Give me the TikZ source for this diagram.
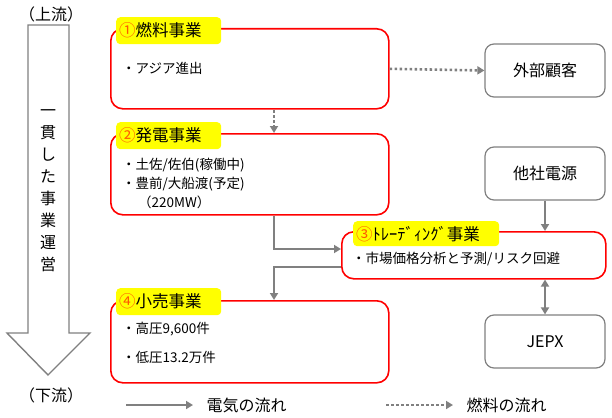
\documentclass[tikz,border=0pt]{standalone}
\usepackage{fontspec}
\setmainfont{Noto Sans CJK JP}
\usetikzlibrary{arrows.meta}
\definecolor{rouge}{RGB}{255,0,0}
\definecolor{gris}{RGB}{128,128,128}
\definecolor{jaune}{RGB}{255,255,0}
\definecolor{numero}{RGB}{255,90,0}
\newcommand{\numcercle}[1]{\textcolor{numero}{#1}}

\begin{document}
\begin{tikzpicture}[x=1pt,y=-1pt]

% définition des styles
\tikzstyle{activite}=[draw=rouge,line width=1.6pt,rounded corners=12pt,minimum width=278pt,anchor=north west]
\tikzstyle{externe}=[draw=gris,line width=1.2pt,rounded corners=9pt,minimum width=120pt,minimum height=53pt,font=\fontsize{16}{18}\selectfont]
\tikzstyle{titre}=[fill=jaune,rounded corners=4pt,anchor=north west,inner xsep=3pt,inner ysep=2pt,text width=99pt,font=\fontsize{16.5}{18}\selectfont,minimum height=27pt]
\tikzstyle{texte}=[anchor=west,inner sep=0pt,font=\fontsize{13.5}{16}\selectfont]
\tikzstyle{fleche}=[-{Triangle[length=7pt,width=8pt]},line width=2.6pt,gris]
\tikzstyle{pointille}=[-{Triangle[length=7pt,width=8pt]},line width=2.6pt,gris,dash pattern=on 2.5pt off 2.5pt]

\useasboundingbox (0,0) rectangle (612,417);

% la grande flèche
\node[font=\fontsize{16}{18}\selectfont] (amont) at (51,14) {（上流）};
\draw[gris,line width=1.4pt] (28,25) -- (69,25) -- (69,333) -- (90,333) -- (48,375) -- (7,333) -- (28,333) -- cycle;
\node[font=\fontsize{16}{22}\selectfont,align=center] (fleuve) at (48,191) {一\\貫\\し\\た\\事\\業\\運\\営};
\node[font=\fontsize{16}{18}\selectfont] (aval) at (51,395) {（下流）};

% les activités
\node[activite,minimum height=80pt] (combustible) at (110,28) {};
\node[titre] (t1) at (116,17) {\numcercle{①}燃料事業};
\node[texte] at (122,68) {・アジア進出};

\node[activite,minimum height=81pt] (production) at (110,133) {};
\node[titre] (t2) at (116,122) {\numcercle{②}発電事業};
\node[texte] at (122,165) {・土佐/佐伯(稼働中)};
\node[texte] at (122,184) {・豊前/大船渡(予定)};
\node[texte] at (138,202) {（220MW）};

\node[activite,minimum width=264pt,minimum height=47pt] (negoce) at (341,231) {};
\node[titre,minimum height=25pt,text width=140pt] (t3) at (353,221) {\numcercle{③}ﾄﾚｰﾃﾞｨﾝｸﾞ事業};
\node[texte] at (352,259) {・市場価格分析と予測/リスク回避};

\node[activite,minimum height=82pt] (detail) at (110,300) {};
\node[titre] (t4) at (116,288) {\numcercle{④}小売事業};
\node[texte] at (122,329) {・高圧9,600件};
\node[texte] at (122,357) {・低圧13.2万件};

% les partenaires
\node[externe] (clients) at (545,70.5) {外部顧客};
\node[externe] (autres) at (545,173.5) {他社電源};
\node[externe] (jepx) at (545,341.5) {JEPX};

% les flux
\draw[pointille] (combustible.east) -- (clients.west);
\draw[pointille] (274,110) -- (production.north -| 274,0);
\draw[fleche] (production.south -| 274,0) |- (negoce.west |- 0,249);
\draw[fleche] (negoce.west |- 0,267) -| (detail.north -| 274,0);
\draw[fleche] (autres.south) -- (negoce.north -| autres.south);
\draw[fleche,{Triangle[length=7pt,width=8pt]}-{Triangle[length=7pt,width=8pt]}] (negoce.south -| jepx.north) -- (jepx.north);

% légende
\coordinate (e1) at (126,405);
\coordinate (e2) at (193,405);
\coordinate (c1) at (386,405);
\coordinate (c2) at (453,405);
\draw[fleche] (e1) -- (e2);
\node[font=\fontsize{16}{18}\selectfont,anchor=west] (electricite) at (203,405) {電気の流れ};
\draw[pointille] (c1) -- (c2);
\node[font=\fontsize{16}{18}\selectfont,anchor=west] (carburant) at (463,405) {燃料の流れ};

\end{tikzpicture}
\end{document}
